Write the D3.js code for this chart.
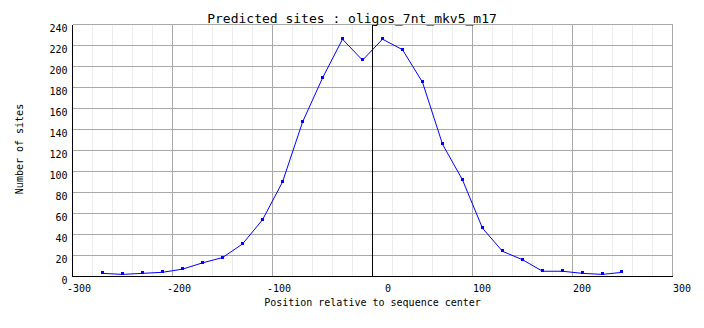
<!DOCTYPE html>
<html>
<head>
<meta charset="utf-8">
<script src="https://cdn.jsdelivr.net/npm/d3@7"></script>
<style>
  html, body { margin: 0; padding: 0; background: #fff; }
  svg { display: block; }
  text { font-family: "DejaVu Sans Mono", monospace; fill: #000; }
</style>
</head>
<body>
<svg id="chart" width="704" height="328"></svg>
<script>
// Site counts per position bin (bin centres relative to sequence centre)
const positions = [-270, -250, -230, -210, -190, -170, -150, -130, -110, -90, -70, -50, -30, -10,
                   10, 30, 50, 70, 90, 110, 130, 150, 170, 190, 210, 230, 250];
const siteCounts = [3, 2, 3, 4, 7, 13, 18, 31, 54, 90, 147, 189, 226, 206,
                    226, 216, 185, 126, 92, 46, 24, 16, 5, 5, 3, 2, 4];

const xTicks = [-300, -200, -100, 0, 100, 200, 300];
const yTicks = [0, 20, 40, 60, 80, 100, 120, 140, 160, 180, 200, 220, 240];
const xMinorTicks = d3.range(-300, 301, 20);

const titleText = "Predicted sites : oligos_7nt_mkv5_m17";
const xLabelText = "Position relative to sequence center";
const yLabelText = "Number of sites";

const svg = d3.select("#chart");
const W = 704;

const x = d3.scaleLinear().domain([-300, 300]).range([72.5, 672.5]);
const y = d3.scaleLinear().domain([0, 240]).range([276.5, 24.5]);

const grid = svg.append("g").attr("shape-rendering", "crispEdges");

// minor vertical grid
grid.selectAll("line.minor").data(xMinorTicks.filter(v => v % 100 !== 0)).join("line")
  .attr("class", "minor")
  .attr("x1", d => x(d)).attr("x2", d => x(d))
  .attr("y1", y(240)).attr("y2", y(0))
  .attr("stroke", "#ececec");

// major vertical grid
grid.selectAll("line.vmaj").data(xTicks.filter(v => v !== -300 && v !== 0)).join("line")
  .attr("class", "vmaj")
  .attr("x1", d => x(d)).attr("x2", d => x(d))
  .attr("y1", y(240)).attr("y2", y(0))
  .attr("stroke", "#a8a8a8");

// horizontal grid
grid.selectAll("line.hmaj").data(yTicks.filter(v => v !== 0)).join("line")
  .attr("class", "hmaj")
  .attr("x1", x(-300)).attr("x2", x(300))
  .attr("y1", d => y(d)).attr("y2", d => y(d))
  .attr("stroke", "#a8a8a8");

// centre line and axes
grid.append("line")
  .attr("x1", x(0)).attr("x2", x(0)).attr("y1", y(240)).attr("y2", y(0))
  .attr("stroke", "#000");
grid.append("line")
  .attr("x1", x(-300)).attr("x2", x(-300)).attr("y1", y(240)).attr("y2", y(0))
  .attr("stroke", "#000");
grid.append("line")
  .attr("x1", x(-300)).attr("x2", x(300)).attr("y1", y(0)).attr("y2", y(0))
  .attr("stroke", "#000");

// axis tick labels
const xAxis = d3.axisBottom(x).tickValues(xTicks).tickSize(0).tickFormat(d3.format("d"));
const xg = svg.append("g").attr("transform", `translate(0,${y(0)})`).call(xAxis);
xg.select(".domain").remove();
xg.selectAll("text")
  .attr("font-size", 10).attr("font-family", "DejaVu Sans Mono")
  .attr("text-anchor", "end").attr("x", 18).attr("y", 15).attr("dy", null)
  .text(d => d < 0 ? "-" + Math.abs(d) : d);

const yAxis = d3.axisLeft(y).tickValues(yTicks).tickSize(0).tickFormat(d3.format("d"));
const yg = svg.append("g").attr("transform", `translate(${x(-300)},0)`).call(yAxis);
yg.select(".domain").remove();
yg.selectAll("text")
  .attr("font-size", 10).attr("font-family", "DejaVu Sans Mono")
  .attr("text-anchor", "end").attr("x", -5).attr("dy", null).attr("y", 6.5);

// data line and markers
const pts = positions.map((p, i) => [p, siteCounts[i]]);
svg.append("path")
  .datum(pts)
  .attr("d", d3.line().x(d => x(d[0])).y(d => y(d[1])))
  .attr("fill", "none").attr("stroke", "#0000ff").attr("stroke-width", 1);

svg.append("g").selectAll("rect").data(pts).join("rect")
  .attr("x", d => Math.round(x(d[0])) - 2).attr("y", d => Math.round(y(d[1])) - 2)
  .attr("width", 3).attr("height", 3)
  .attr("fill", "#0000ff").attr("shape-rendering", "crispEdges");

// titles
svg.append("text").attr("x", W / 2).attr("y", 23)
  .attr("text-anchor", "middle").attr("font-size", 13).text(titleText);
svg.append("text").attr("x", x(0)).attr("y", 306)
  .attr("text-anchor", "middle").attr("font-size", 10).text(xLabelText);
svg.append("text").attr("transform", "translate(23,149) rotate(-90)")
  .attr("text-anchor", "middle").attr("font-size", 10).text(yLabelText);
</script>
</body>
</html>
